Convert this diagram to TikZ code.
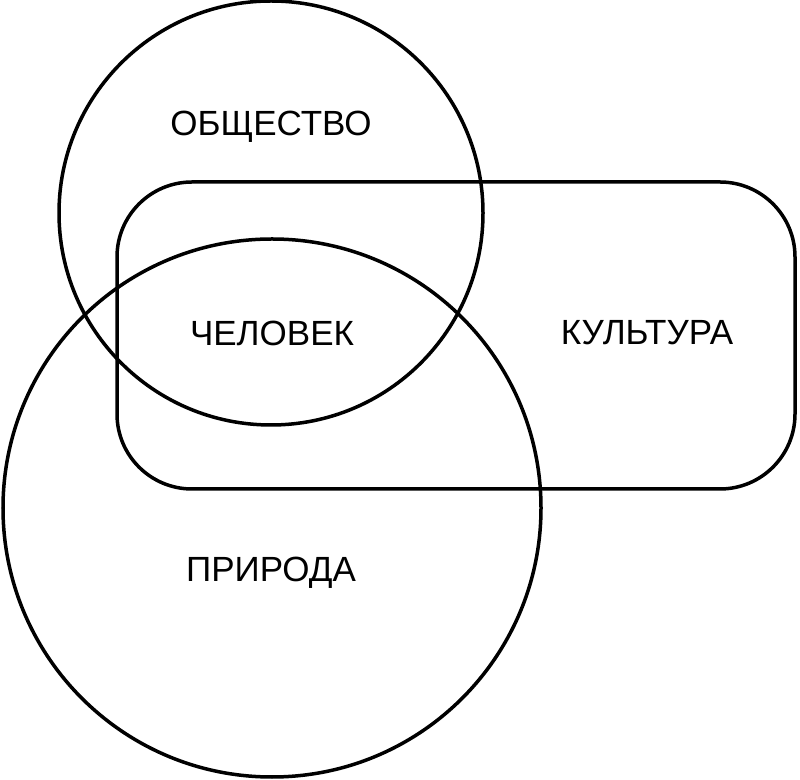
\documentclass[tikz,border=0pt]{standalone}
\usepackage{fontspec}
\setmainfont{Liberation Sans}
\begin{document}
\begin{tikzpicture}[x=1pt,y=1pt,
  shapeline/.style={draw=black,line width=3.5pt},
  lbl/.style={font=\fontsize{35}{40}\selectfont,text=black,inner sep=0pt}]
\useasboundingbox (0,0) rectangle (800,779);
\draw[shapeline,rounded corners=75pt] (117,290) rectangle (795,597);
\node[shapeline,circle,minimum size=424pt,inner sep=0pt] (society) at (271,566) {};
\node[shapeline,circle,minimum size=538pt,inner sep=0pt] (nature) at (272,271) {};
\node[lbl] (t1) at (271,652) {ОБЩЕСТВО};
\node[lbl] (t2) at (272,446) {ЧЕЛОВЕК};
\node[lbl] (t3) at (647,446) {КУЛЬТУРА};
\node[lbl] (t4) at (271,206) {ПРИРОДА};
\end{tikzpicture}
\end{document}
